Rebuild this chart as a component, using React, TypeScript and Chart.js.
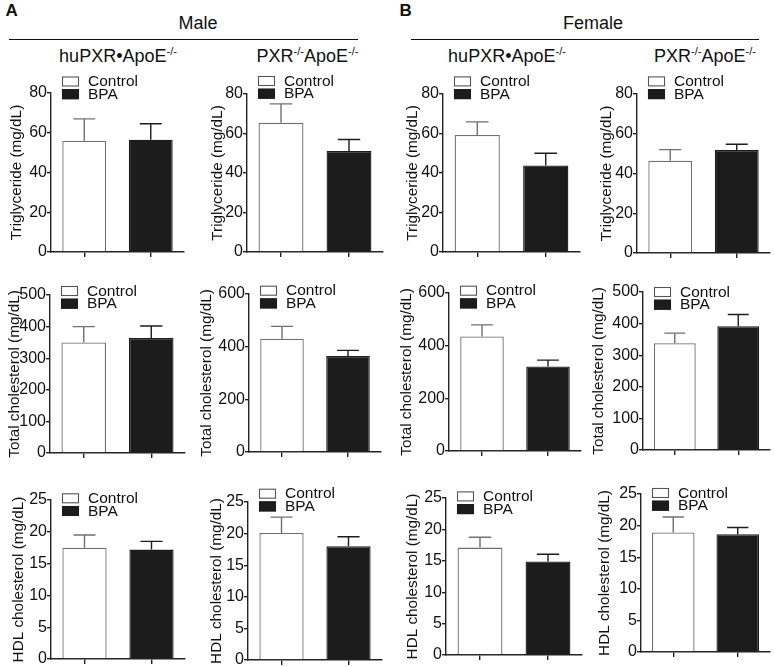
import React, { useEffect, useRef } from 'react';
import { Chart, registerables } from 'chart.js';

Chart.register(...registerables);

const FONT = '"Liberation Sans", Arial, Helvetica, sans-serif';
Chart.defaults.font.family = FONT;

// ---------------- data ----------------
const categories = ['Control', 'BPA'];
const sexLabels = ['Male', 'Female'];
const panelLetters = ['A', 'B'];
const yTitles = ['Triglyceride (mg/dL)', 'Total cholesterol (mg/dL)', 'HDL cholesterol (mg/dL)'];

// columns: Male huPXR•ApoE-/-, Male PXR-/-ApoE-/-, Female huPXR•ApoE-/-, Female PXR-/-ApoE-/-
const triglycerideMean = [[56, 56.5], [65.4, 51.2], [59.3, 43.8], [46.4, 51.8]];
const triglycerideSEM = [[11, 8], [9.6, 5.8], [6.6, 6.2], [5.6, 2.9]];
const totalCholMean = [[350, 364], [430, 365], [435, 321], [338, 392]];
const totalCholSEM = [[50, 38], [47, 21], [44, 24], [32, 37]];
const hdlMean = [[17.5, 17.2], [20.1, 18.0], [17.1, 14.9], [18.9, 18.65]];
const hdlSEM = [[2.0, 1.3], [2.5, 1.5], [1.65, 1.15], [2.45, 1.05]];

const yMax = [[80, 80, 80, 80], [500, 600, 600, 500], [25, 25, 25, 25]];
const yStep = [[20, 20, 20, 20], [100, 200, 200, 100], [5, 5, 5, 5]];

const meansByRow = [triglycerideMean, totalCholMean, hdlMean];
const semByRow = [triglycerideSEM, totalCholSEM, hdlSEM];

// ---------------- layout (pixel positions) ----------------
const layout = [
  [
    { ax: 51, top: 93.3, bot: 252, end: 184, gap: 33.5, dy: -11.5 },
    { ax: 246.7, top: 94.3, bot: 252.7, end: 383, gap: 29.2, dy: -13 },
    { ax: 443.3, top: 94.3, bot: 252.7, end: 580.7, gap: 30.3, dy: -12.6 },
    { ax: 637.3, top: 94.3, bot: 253.3, end: 770, gap: 29.8, dy: -12.6 },
  ],
  [
    { ax: 50, top: 295, bot: 453, end: 185, gap: 34.5, dy: -4 },
    { ax: 249.3, top: 294.3, bot: 452.7, end: 381.7, gap: 41.5, dy: -3.3 },
    { ax: 449.3, top: 293.3, bot: 451, end: 581.7, gap: 41.5, dy: -2.3 },
    { ax: 643.3, top: 291.7, bot: 450, end: 770, gap: 43.6, dy: 0 },
  ],
  [
    { ax: 50.7, top: 500, bot: 659, end: 185, gap: 31.5, dy: -1.7 },
    { ax: 248.3, top: 502.3, bot: 660.7, end: 382.7, gap: 30.8, dy: -8.3 },
    { ax: 446, top: 498.3, bot: 655.7, end: 581.7, gap: 33, dy: -1.6 },
    { ax: 640.7, top: 494, bot: 651.7, end: 770, gap: 36.2, dy: -1 },
  ],
];

const BAR_FILL = ['#ffffff', '#1c1c1c'];
const BAR_BORDER = ['#707070', '#1c1c1c'];
const ERR_COLOR = ['#707070', '#1c1c1c'];
const AXIS = '#222222';
const TEXT = '#111111';

// ---------------- plugins ----------------
const errorBarPlugin = {
  id: 'errorBars',
  afterDatasetsDraw(chart: any) {
    const { ctx } = chart;
    const ds: any = chart.data.datasets[0];
    const meta = chart.getDatasetMeta(0);
    const yScale = chart.scales.y;
    ctx.save();
    ctx.lineWidth = 1.4;
    meta.data.forEach((bar: any, i: number) => {
      const p = bar.getProps(['x', 'y', 'width'], true);
      const v = ds.data[i] as number;
      const yErr = yScale.getPixelForValue(v + ds.sem[i]);
      const half = p.width / 4;
      ctx.strokeStyle = ERR_COLOR[i];
      ctx.beginPath();
      ctx.moveTo(p.x, p.y);
      ctx.lineTo(p.x, yErr);
      ctx.moveTo(p.x - half, yErr);
      ctx.lineTo(p.x + half, yErr);
      ctx.stroke();
    });
    ctx.restore();
  },
};

const panelLegendPlugin = {
  id: 'panelLegend',
  afterDraw(chart: any, _args: any, opts: any) {
    const { ctx, chartArea } = chart;
    const labels = chart.data.labels as string[];
    ctx.save();
    labels.forEach((lab, i) => {
      const cy = chartArea.top + opts.dy + i * 12.7;
      const bx = chartArea.left + 11;
      ctx.fillStyle = BAR_FILL[i];
      ctx.fillRect(bx, cy - 5, 17, 10);
      ctx.strokeStyle = i === 0 ? '#555555' : BAR_BORDER[i];
      ctx.lineWidth = 1.1;
      ctx.strokeRect(bx + 0.5, cy - 4.5, 16, 9);
      ctx.fillStyle = TEXT;
      ctx.font = `15.5px ${FONT}`;
      ctx.textBaseline = 'middle';
      ctx.textAlign = 'left';
      ctx.fillText(lab, chartArea.left + 37, cy + 0.5);
    });
    ctx.restore();
  },
};

// ---------------- components ----------------
const PT = 26;
const PB = 2;
const PR = 4;
const XH = 8;

function Panel({ row, col }: { row: number; col: number }) {
  const ref = useRef<HTMLCanvasElement>(null);
  const L = layout[row][col];
  const W = Math.round(L.gap + 9);
  const plotW = Math.round(L.end - L.ax);
  const plotH = Math.round(L.bot - L.top);
  const cw = W + plotW + PR;
  const ch = PT + plotH + XH + PB;

  useEffect(() => {
    if (!ref.current) return;
    const chart = new Chart(ref.current, {
      type: 'bar',
      data: {
        labels: categories,
        datasets: [
          {
            data: meansByRow[row][col],
            sem: semByRow[row][col],
            backgroundColor: BAR_FILL,
            borderColor: BAR_BORDER,
            borderWidth: 1.3,
            borderSkipped: 'bottom',
            barPercentage: 0.66,
            categoryPercentage: 1.0,
          } as any,
        ],
      },
      options: {
        responsive: false,
        animation: false,
        events: [],
        layout: { padding: { top: PT, bottom: PB, left: 0, right: PR } },
        plugins: {
          legend: { display: false },
          tooltip: { enabled: false },
          title: { display: false },
          panelLegend: { dy: L.dy },
        } as any,
        scales: {
          x: {
            type: 'category',
            offset: true,
            ticks: { display: false },
            grid: {
              display: true,
              offset: false,
              drawOnChartArea: false,
              drawTicks: true,
              tickLength: 5,
              color: AXIS,
              lineWidth: 1.4,
            },
            border: { display: true, color: AXIS, width: 1.4 },
            afterFit(s: any) {
              s.height = XH;
              s.paddingLeft = 0;
              s.paddingRight = 0;
            },
          },
          y: {
            min: 0,
            max: yMax[row][col],
            ticks: {
              stepSize: yStep[row][col],
              padding: 0,
              color: TEXT,
              font: { size: 16, family: FONT },
            },
            grid: {
              display: true,
              drawOnChartArea: false,
              drawTicks: true,
              tickLength: 4,
              color: AXIS,
              lineWidth: 1.4,
            },
            border: { display: true, color: AXIS, width: 1.4 },
            title: {
              display: true,
              text: yTitles[row],
              color: TEXT,
              font: { size: 15.3, family: FONT },
              padding: 0,
            },
            afterFit(s: any) {
              s.width = W;
              s.paddingTop = 0;
              s.paddingBottom = 0;
            },
          },
        },
      },
      plugins: [errorBarPlugin, panelLegendPlugin],
    });
    return () => chart.destroy();
  }, []);

  return (
    <canvas
      ref={ref}
      width={cw}
      height={ch}
      style={{ position: 'absolute', left: L.ax - W, top: L.top - PT, width: cw, height: ch }}
    />
  );
}

const Sup = ({ children }: { children: React.ReactNode }) => (
  <span style={{ fontSize: 11, position: 'relative', top: -7 }}>{children}</span>
);

function StrainLabel({ kind }: { kind: number }) {
  if (kind === 0) {
    return (
      <>
        huPXR•ApoE<Sup>-/-</Sup>
      </>
    );
  }
  return (
    <>
      PXR<Sup>-/-</Sup>ApoE<Sup>-/-</Sup>
    </>
  );
}

const strainCenters = [118, 307.5, 507, 705];
const sexCenters = [198, 593];
const letterLefts = [5.5, 399.5];
const ruleSpans = [
  [9, 358],
  [410.7, 759],
];

export default function App() {
  const rows = [0, 1, 2];
  const cols = [0, 1, 2, 3];
  return (
    <div
      style={{
        position: 'absolute',
        left: 0,
        top: 0,
        width: 774,
        height: 667,
        background: '#ffffff',
        fontFamily: FONT,
        color: TEXT,
        overflow: 'hidden',
      }}
    >
      {panelLetters.map((t, i) => (
        <div
          key={'L' + t}
          style={{ position: 'absolute', left: letterLefts[i], top: 2.2, fontSize: 17, fontWeight: 'bold', lineHeight: '17px' }}
        >
          {t}
        </div>
      ))}
      {sexLabels.map((t, i) => (
        <div
          key={'S' + t}
          style={{
            position: 'absolute',
            left: sexCenters[i] - 80,
            width: 160,
            textAlign: 'center',
            top: 13.8,
            fontSize: 18,
            lineHeight: '18px',
          }}
        >
          {t}
        </div>
      ))}
      {ruleSpans.map((s, i) => (
        <div
          key={'R' + i}
          style={{ position: 'absolute', left: s[0], top: 38.5, width: s[1] - s[0], height: 0, borderTop: '1.3px solid #111' }}
        />
      ))}
      {strainCenters.map((c, i) => (
        <div
          key={'T' + i}
          style={{
            position: 'absolute',
            left: c - 100,
            width: 200,
            textAlign: 'center',
            top: 46.8,
            fontSize: 18,
            lineHeight: '18px',
            whiteSpace: 'nowrap',
          }}
        >
          <StrainLabel kind={i % 2} />
        </div>
      ))}
      {rows.map((r) => cols.map((c) => <Panel key={r + '-' + c} row={r} col={c} />))}
    </div>
  );
}
